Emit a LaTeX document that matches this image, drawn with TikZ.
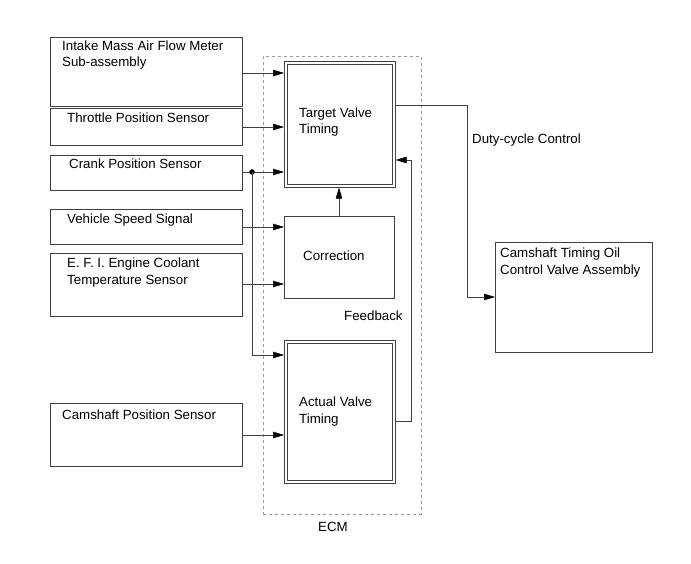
\documentclass[tikz,border=0pt]{standalone}
\usepackage{fontspec}
\setmainfont{Liberation Sans}
\usetikzlibrary{arrows.meta}
\begin{document}
\begin{tikzpicture}[x=1pt,y=-1pt,
  box/.style={draw=black!75,line width=0.6pt,rectangle,inner sep=0pt,anchor=north west},
  txt/.style={anchor=base west,inner sep=0pt,font=\fontsize{13.3}{16}\selectfont},
  conn/.style={draw=black!75,line width=0.6pt},
  arr/.style={conn,-{Triangle[length=11pt,width=6.5pt,color=black,fill=black]}}]
\useasboundingbox (0,0) rectangle (691,564);
% ECM dashed frame
\node[box,draw=black!40,dashed,minimum width=158pt,minimum height=458pt] (ecm) at (263,56) {};
% left boxes
\node[box,minimum width=192pt,minimum height=69pt] (maf) at (50,37) {};
\node[box,minimum width=192pt,minimum height=37pt] (tps) at (50,108) {};
\node[box,minimum width=192pt,minimum height=35pt] (cps) at (50,155) {};
\node[box,minimum width=192pt,minimum height=35pt] (vss) at (50,209) {};
\node[box,minimum width=192pt,minimum height=63pt] (ect) at (50,253) {};
\node[box,minimum width=192pt,minimum height=63pt] (cam) at (50,403) {};
% ECM internal boxes
\node[box,minimum width=111pt,minimum height=126pt] (tvt) at (284,61) {};
\draw[black!75,line width=0.6pt] ([shift={(3,3)}]tvt.north west) rectangle ([shift={(-3,-3)}]tvt.south east);
\node[box,minimum width=110pt,minimum height=82pt] (cor) at (284,216) {};
\node[box,minimum width=111pt,minimum height=143pt] (avt) at (284,340) {};
\draw[black!75,line width=0.6pt] ([shift={(3,3)}]avt.north west) rectangle ([shift={(-3,-3)}]avt.south east);
% output box
\node[box,minimum width=157pt,minimum height=110pt] (ocv) at (495,242) {};
% texts
\node[txt] (t1) at (62,51) {Intake Mass Air Flow Meter};
\node[txt] (t1b) at (62,67) {Sub-assembly};
\node[txt] (t2) at (67,123) {Throttle Position Sensor};
\node[txt] (t3) at (69,169) {Crank Position Sensor};
\node[txt] (t4) at (67,224) {Vehicle Speed Signal};
\node[txt] (t5) at (67,268) {E. F. I. Engine Coolant};
\node[txt] (t5b) at (67,284) {Temperature Sensor};
\node[txt] (t6) at (62,419) {Camshaft Position Sensor};
\node[txt] (t7) at (299,118) {Target Valve};
\node[txt] (t7b) at (299,134) {Timing};
\node[txt] (t8) at (303,261) {Correction};
\node[txt] (t9) at (299,406) {Actual Valve};
\node[txt] (t9b) at (299,423) {Timing};
\node[txt] (t10) at (500,258) {Camshaft Timing Oil};
\node[txt] (t10b) at (500,274) {Control Valve Assembly};
\node[txt] (t11) at (472,144) {Duty-cycle Control};
\node[txt] (t12) at (344,320) {Feedback};
\node[txt] (t13) at (318,531) {ECM};
% coordinates
\coordinate (dot) at (252,172);
\coordinate (bend1) at (252,355);
\coordinate (fb1) at (411,421);
\coordinate (fb2) at (411,160);
\coordinate (o1) at (467,105);
\coordinate (o2) at (467,297);
% connectors
\draw[arr] (maf.east |- 0,73) -- (tvt.west |- 0,73);
\draw[arr] (tps.east |- 0,127) -- (tvt.west |- 0,127);
\draw[arr] (cps.east |- dot) -- (tvt.west |- dot);
\fill[black] (dot) circle (2.8pt);
\draw[arr] (dot) -- (bend1) -- (avt.west |- bend1);
\draw[arr] (vss.east |- 0,227) -- (cor.west |- 0,227);
\draw[arr] (ect.east |- 0,284) -- (cor.west |- 0,284);
\draw[arr] (cam.east |- 0,435) -- (avt.west |- 0,435);
\draw[arr] (cor.north -| 339,0) -- (tvt.south -| 339,0);
\draw[arr] (avt.east |- fb1) -- (fb1) -- (fb2) -- (tvt.east |- fb2);
\draw[arr] (tvt.east |- o1) -- (o1) -- (o2) -- (ocv.west |- o2);
\end{tikzpicture}
\end{document}
